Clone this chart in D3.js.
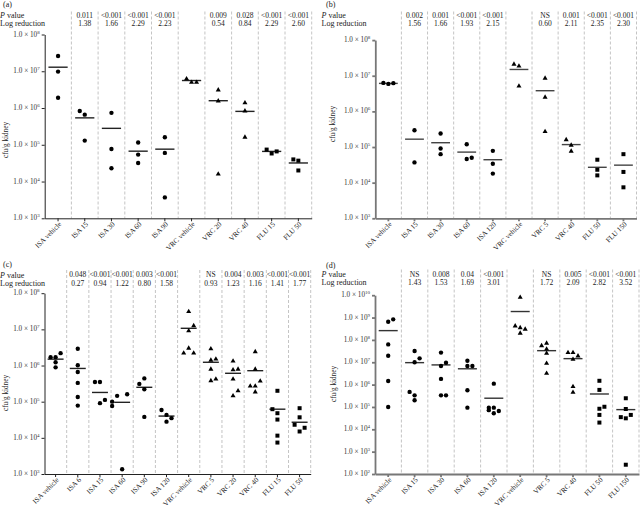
<!DOCTYPE html>
<html><head><meta charset="utf-8">
<script src="https://cdn.jsdelivr.net/npm/d3@7"></script>
<style>body{margin:0;background:#fff}svg{display:block;font-family:"Liberation Serif","DejaVu Serif",serif}</style>
</head><body><svg id="c" width="640" height="507"></svg>
<script>
// ---------- DATA ----------
const catsA = ["ISA vehicle","ISA 15","ISA 30","ISA 60","ISA 90","VRC vehicle","VRC 20","VRC 40","FLU 15","FLU 50"];
const pA  = ["","0.011","<0.001","<0.001","<0.001","","0.009","0.028","<0.001","<0.001"];
const lrA = ["","1.38","1.66","2.29","2.23","","0.54","0.84","2.29","2.60"];
const valsA = [[2.6e7,9.8e6,1.9e6],[8.3e5,6.6e5,1.3e5],[7.4e5,7.7e4,2.3e4],[1.15e5,5.4e4,3.2e4],[1.6e5,6.0e4,3.7e3],
  [6.2e6,5.0e6,5.0e6],[3.1e6,1.55e6,1.6e4],[1.38e6,8.3e5,1.6e5],[7.4e4,5.8e4,6.6e4],[4.0e4,3.7e4,2.0e4]];
const slotsA = [[0,0,0],[-1,0,0],[0,0,0],[0,0,0],[0,0,0],[-1,0,1],[0,0,0],[0,0,0],[-1,0,1],[-1,0,0]];
const meansA = [1.29e7,5.4e5,2.8e5,6.7e4,7.6e4,5.6e6,1.58e6,8.1e5,6.6e4,3.2e4];
const ticksA = [3,4,5,6,7,8];

const catsB = ["ISA vehicle","ISA 15","ISA 30","ISA 60","ISA 120","VRC vehicle","VRC 5","VRC 40","FLU 50","FLU 150"];
const pB  = ["","0.002","0.001","<0.001","<0.001","","NS","0.001","<0.001","<0.001"];
const lrB = ["","1.56","1.66","1.93","2.15","","0.60","2.11","2.35","2.30"];
const valsB = [[6.3e6,5.9e6,6.2e6],[2.95e5,3.7e4],[2.4e5,9.1e4,6.3e4],[1.2e5,4.6e4,5.0e4],[7.8e4,3.4e4,1.8e4],
  [2.1e7,1.86e7,5.1e6],[8.5e6,2.5e6,2.7e5],[1.6e5,1.12e5,7.6e4],[4.4e4,2.3e4,1.6e4],[6.3e4,2.0e4,7.4e3]];
const slotsB = [[-1,0,1],[0,0],[0,0,0],[0,0,1],[0,0,0],[-1,0,0],[0,0,0],[-1,0,0],[0,0,0],[0,0,0]];
const meansB = [6.1e6,1.66e5,1.32e5,7.2e4,4.4e4,1.5e7,3.8e6,1.17e5,2.7e4,3.1e4];
const ticksB = [3,4,5,6,7,8];

const catsC = ["ISA vehicle","ISA 6","ISA 15","ISA 60","ISA 90","ISA 120","VRC vehicle","VRC 5","VRC 20","VRC 40","FLU 15","FLU 50"];
const pC  = ["","0.048","<0.001","<0.001","0.003","<0.001","","NS","0.004","0.003","<0.001","<0.001"];
const lrC = ["","0.27","0.94","1.22","0.80","1.58","","0.93","1.23","1.16","1.41","1.77"];
const valsC = [[1.7e6,1.7e6,2.2e6,1.23e6,8.9e5],[2.9e6,1.02e6,6.6e5,3.3e5,1.35e5,7.8e4],[3.5e5,3.5e5,9.1e4,1.12e5],
  [1.45e5,1.6e5,1.0e5,7.6e4,1.35e3],[3.1e5,4.4e5,2.2e5,3.8e4],[5.9e4,4.3e4,3.5e4,2.8e4],
  [3.1e7,1.26e7,9.1e6,3.0e6,2.2e6,2.2e6],[2.9e6,1.4e6,1.5e6,7.9e5,3.8e5,4.2e5],[1.33e6,7.6e5,7.9e5,4.2e5,2.0e5,1.45e5],
  [2.4e6,7.9e5,2.7e5,2.7e5,3.7e5,1.86e5],[2.0e5,6.2e4,4.8e4,3.2e4,1.15e4,7.4e3],[6.6e4,3.7e4,2.3e4,1.9e4,1.5e4]];
const slotsC = [[-1,0,1,0,0],[0,0,0,0,0,0],[-1,0,0,1],[-1,1,-2,-2,0],[-1,0,0,0],[-1,0,1,0],
  [0,1,0,0,-1,1],[0,0,1,0,0,1],[0,0,1,0,1,0],[0,0,-1,0,1,0],[0,-1,0,0,0,0],[0,0,-1,1,0]];
const meansC = [1.5e6,8.3e5,1.8e5,9.6e4,2.5e5,4.0e4,1.07e7,1.23e6,6.1e5,7.2e5,6.2e4,2.7e4];
const ticksC = [3,4,5,6,7,8];

const catsD = ["ISA vehicle","ISA 15","ISA 30","ISA 60","ISA 120","VRC vehicle","VRC 5","VRC 40","FLU 50","FLU 150"];
const pD  = ["","NS","0.008","0.04","<0.001","","NS","0.005","<0.001","<0.001"];
const lrD = ["","1.43","1.53","1.69","3.01","","1.72","2.09","2.82","3.52"];
const valsD = [[6.5e8,8.3e8,6.3e7,1.95e7,1.45e6,1.0e5],[3.2e7,1.5e7,1.0e7,4.7e5,3.3e5,2.0e5],[2.7e7,9.5e6,6.8e6,1.8e6,3.3e5,3.3e5],
  [1.17e7,6.8e6,6.8e6,5.6e5,9.3e4],[1.1e6,9.3e4,9.3e4,7.2e4,5.2e4,6.6e4],[8.0e9,4.2e8,3.5e8,3.0e8,2.0e8],
  [5.5e7,7.1e7,3.9e7,2.5e7,8.9e6,3.2e6],[2.7e7,2.7e7,1.9e7,1.35e7,8.1e5,4.5e5],[1.48e6,5.8e5,1.02e5,8.3e4,4.4e4,2.0e4],
  [2.45e5,8.1e4,3.5e4,3.1e4,4.4e4,2.6e2]];
const slotsD = [[0,1,0,0,0,0],[0,1,0,-1,0,0],[0,1,0,0,0,1],[0,0,1,0,0],[0,-1,0,-1,0,1],[0,-1,0,1,0],
  [-1,0,0,0,0,0],[-1,0,1,0,0,0],[0,0,1,0,0,0],[0,0,-1,0,1,0]];
const meansD = [2.6e8,9.6e6,7.6e6,5.1e6,2.46e5,1.86e9,3.3e7,1.45e7,3.8e5,7.6e4];
const ticksD = [2,3,4,5,6,7,8,9,10];

const panelLabels = ["(a)","(b)","(c)","(d)"];
const yTitle = "cfu/g kidney";

// ---------- LAYOUT ----------
const layouts = [
  {x0:44.7,x1:311.7,yTop:34.5,yBot:218.3,lx:3,ly:4,tx:0,pY:15,lrY:23.5,headTop:11.5,titleX:6,titleY:140,axc:"#222",aw:1,mc:"#222"},
  {x0:375.3,x1:636.5,yTop:40.1,yBot:218.3,lx:326,ly:4,tx:321.5,pY:15,lrY:23.5,headTop:11.5,titleX:333,titleY:124,axc:"#777",aw:1.8,mc:"#444"},
  {x0:44.5,x1:310.7,yTop:293.2,yBot:474,lx:3,ly:264.5,tx:0,pY:274.5,lrY:283,headTop:270,titleX:6,titleY:393,axc:"#222",aw:1,mc:"#222"},
  {x0:375,x1:639,yTop:295.2,yBot:474,lx:326,ly:265,tx:321.5,pY:274,lrY:282.5,headTop:269.5,titleX:334,titleY:384,axc:"#777",aw:1.8,mc:"#333"}
];
const dataSets = [
  {cats:catsA,p:pA,lr:lrA,vals:valsA,slots:slotsA,means:meansA,ticks:ticksA},
  {cats:catsB,p:pB,lr:lrB,vals:valsB,slots:slotsB,means:meansB,ticks:ticksB},
  {cats:catsC,p:pC,lr:lrC,vals:valsC,slots:slotsC,means:meansC,ticks:ticksC},
  {cats:catsD,p:pD,lr:lrD,vals:valsD,slots:slotsD,means:meansD,ticks:ticksD}
];

const svg = d3.select("#c");
const txt = "#222";

dataSets.forEach((D, k) => {
  const L = layouts[k];
  const g = svg.append("g");
  const x = d3.scaleBand().domain(D.cats).range([L.x0, L.x1]);
  const tv = D.ticks.map(e => Math.pow(10, e));
  const y = d3.scaleLog().domain([tv[0], tv[tv.length-1]]).range([L.yBot, L.yTop]);
  const bw = x.bandwidth();

  // dividers
  const divX = D.cats.slice(1).map(c => x(c)).concat([L.x1]);
  g.selectAll("line.div").data(divX).join("line")
    .attr("x1", d => d).attr("x2", d => d)
    .attr("y1", L.headTop).attr("y2", L.yBot)
    .attr("stroke", "#b5b5b5").attr("stroke-width", 0.8).attr("stroke-dasharray", "3,2");

  // header
  g.append("text").attr("x", L.lx).attr("y", L.ly).attr("dominant-baseline","central")
    .attr("font-size", 8).attr("fill", txt).text(panelLabels[k]);
  const pv = g.append("text").attr("x", L.tx).attr("y", L.pY).attr("dominant-baseline","central")
    .attr("font-size", 8).attr("fill", txt);
  pv.append("tspan").attr("font-style","italic").text("P");
  pv.append("tspan").text(" value");
  g.append("text").attr("x", L.tx).attr("y", L.lrY).attr("dominant-baseline","central")
    .attr("font-size", 8).attr("fill", txt).text("Log reduction");
  g.selectAll("text.pv").data(D.cats).join("text")
    .attr("x", c => x(c) + bw/2).attr("y", L.pY).attr("text-anchor","middle").attr("dominant-baseline","central")
    .attr("font-size", 7.5).attr("fill", txt).text((c,i) => D.p[i]);
  g.selectAll("text.lr").data(D.cats).join("text")
    .attr("x", c => x(c) + bw/2).attr("y", L.lrY).attr("text-anchor","middle").attr("dominant-baseline","central")
    .attr("font-size", 7.5).attr("fill", txt).text((c,i) => D.lr[i]);

  // y axis
  const ya = g.append("g").attr("transform", `translate(${L.x0},0)`)
    .call(d3.axisLeft(y).tickValues(tv).tickSize(3).tickSizeOuter(0).tickFormat(""));
  ya.selectAll("path,line").attr("stroke", L.axc).attr("stroke-width", L.aw);
  D.ticks.forEach(e => {
    const t = g.append("text").attr("x", L.x0 - 5).attr("y", y(Math.pow(10,e))).attr("text-anchor","end")
      .attr("dominant-baseline","central").attr("font-size", 7.2).attr("fill", "#333");
    t.append("tspan").text("1.0 \u00d7 10");
    t.append("tspan").attr("font-size", 5).attr("dy", -3).text(e);
  });

  // x axis
  const xa = g.append("g").attr("transform", `translate(0,${L.yBot})`)
    .call(d3.axisBottom(x).tickSize(3).tickSizeOuter(0).tickFormat(""));
  xa.selectAll("path,line").attr("stroke", L.axc).attr("stroke-width", L.aw);
  g.selectAll("text.xl").data(D.cats).join("text")
    .attr("transform", c => `translate(${x(c) + bw/2 + 2},${L.yBot + 4.5}) rotate(-45)`)
    .attr("text-anchor","end").attr("dy","0.35em").attr("font-size", 7.2).attr("fill", txt).text(c => c);

  // y title
  g.append("text").attr("transform", `translate(${L.titleX},${L.titleY}) rotate(-90)`)
    .attr("text-anchor","middle").attr("dominant-baseline","central").attr("font-size", 7.2).attr("fill", txt).text(yTitle);

  // mean lines
  g.selectAll("line.mean").data(D.cats).join("line")
    .attr("x1", c => x(c) + bw*0.14).attr("x2", c => x(c) + bw*0.86)
    .attr("y1", (c,i) => y(D.means[i])).attr("y2", (c,i) => y(D.means[i]))
    .attr("stroke", L.mc).attr("stroke-width", 1.4);

  // points
  const pts = [];
  D.cats.forEach((c,i) => D.vals[i].forEach((v,j) => pts.push({c, v, s: D.slots[i][j]})));
  const shape = c => c.startsWith("ISA") ? d3.symbolCircle : c.startsWith("VRC") ? d3.symbolTriangle : d3.symbolSquare;
  const size = c => c.startsWith("ISA") ? 15 : c.startsWith("VRC") ? 11 : 16;
  g.selectAll("path.pt").data(pts).join("path")
    .attr("d", d => d3.symbol().type(shape(d.c)).size(size(d.c))())
    .attr("transform", d => `translate(${x(d.c) + bw/2 + d.s*5},${y(d.v)})`)
    .attr("fill", "#000");
});
</script></body></html>
